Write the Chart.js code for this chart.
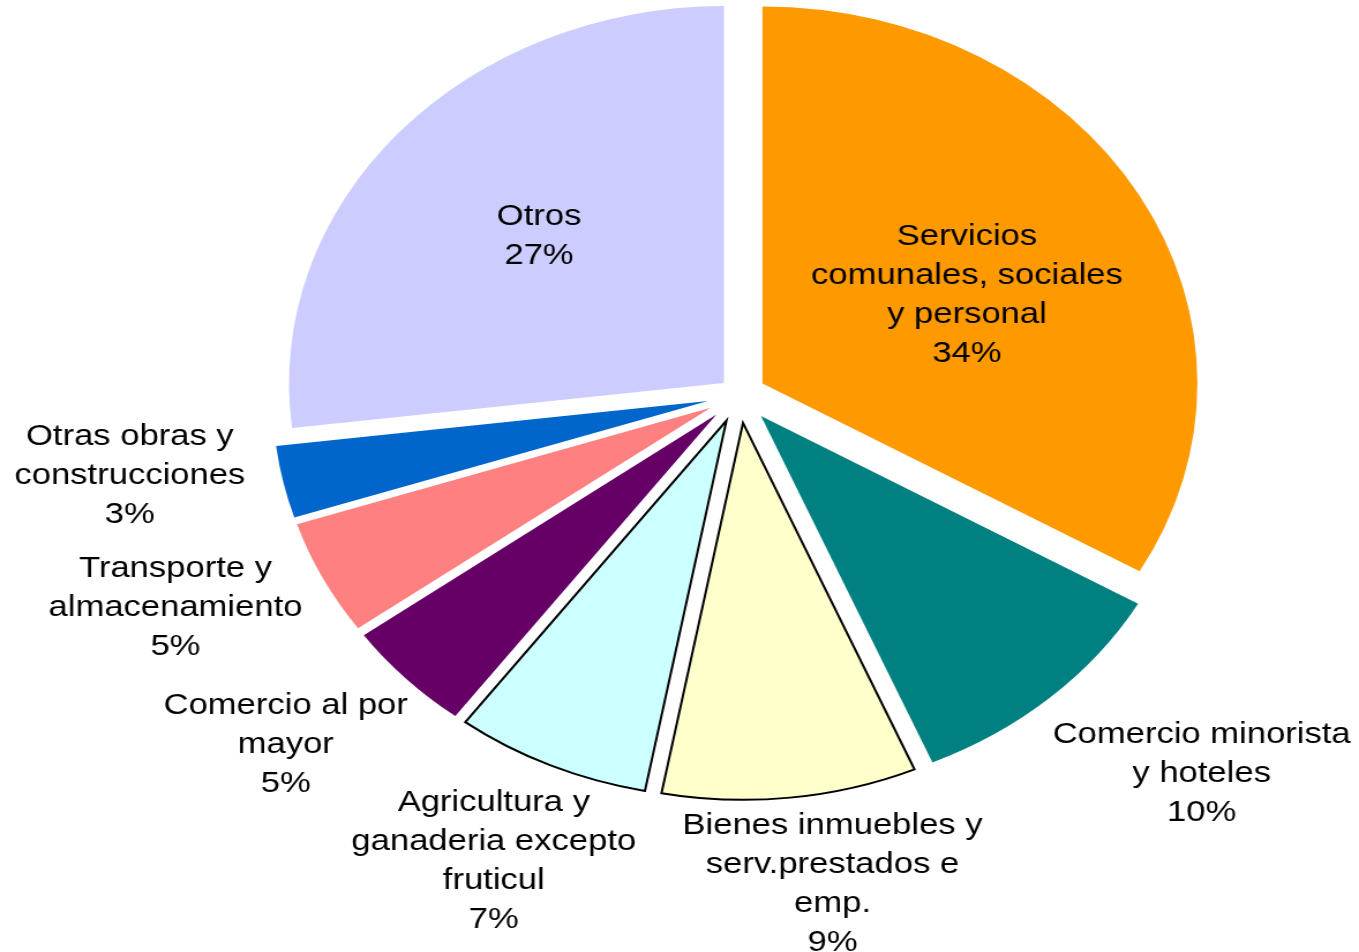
<!DOCTYPE html>
<html><head><meta charset="utf-8">
<script src="https://cdn.jsdelivr.net/npm/chart.js@4/dist/chart.umd.min.js"></script>
<style>html,body{margin:0;padding:0;background:#fff;overflow:hidden}
#c{display:block}</style>
</head><body>
<canvas id="c" width="1178" height="952" style="width:1359px;height:952px"></canvas>
<script>
// ---- data ----
const categories = [
  'Servicios comunales, sociales y personal',
  'Comercio minorista y hoteles',
  'Bienes inmuebles y serv.prestados e emp.',
  'Agricultura y ganaderia excepto fruticul',
  'Comercio al por mayor',
  'Transporte y almacenamiento',
  'Otras obras y construcciones',
  'Otros'
];
// slice sizes (%)
const shares = [33.3, 10.25, 9.45, 7.25, 4.8, 4.95, 3.1, 26.9];
// percentages as printed on the labels
const printedPct = ['34%', '10%', '9%', '7%', '5%', '5%', '3%', '27%'];
const labelLines = [
  ['Servicios', 'comunales, sociales', 'y personal'],
  ['Comercio minorista', 'y hoteles'],
  ['Bienes inmuebles y', 'serv.prestados e', 'emp.'],
  ['Agricultura y', 'ganaderia excepto', 'fruticul'],
  ['Comercio al por', 'mayor'],
  ['Transporte y', 'almacenamiento'],
  ['Otras obras y', 'construcciones'],
  ['Otros']
];

// ---- styles ----
const colors = ['#FF9900', '#008080', '#FFFFCC', '#CCFFFF', '#660066', '#FF8080', '#0066CC', '#CCCCFF'];
const borderWidths = [0, 0, 2, 2, 0, 0, 0, 0];
const explode = [23, 28, 28, 28, 28, 28, 28, 18];
const labelRadius = [0.59, 1.456, 1.308, 1.352, 1.391, 1.411, 1.417, 0.63];
const labelShiftDeg = [2.5, -5.2, -3.2, 0.85, 3.06, 3.7, 4.0, 1.4];
const FONT = '30px "Liberation Sans", Arial, sans-serif';
const LINE_H = 39;
const TEXT_DY = 3;

const explodePlugin = {
  id: 'explode',
  beforeDatasetDraw(chart, args) {
    const ctx = chart.ctx;
    const meta = args.meta;
    meta.data.forEach((arc, i) => {
      const p = arc.getProps(['startAngle', 'endAngle'], true);
      const mid = (p.startAngle + p.endAngle) / 2;
      ctx.save();
      ctx.translate(Math.cos(mid) * explode[i], Math.sin(mid) * explode[i]);
      arc.draw(ctx, chart.chartArea);
      ctx.restore();
    });
    return false;
  }
};

const labelPlugin = {
  id: 'sliceLabels',
  afterDatasetsDraw(chart) {
    const ctx = chart.ctx;
    const meta = chart.getDatasetMeta(0);
    ctx.save();
    ctx.font = FONT;
    ctx.fillStyle = '#000';
    ctx.textAlign = 'center';
    ctx.textBaseline = 'middle';
    meta.data.forEach((arc, i) => {
      const p = arc.getProps(['x', 'y', 'startAngle', 'endAngle', 'outerRadius'], true);
      const mid = (p.startAngle + p.endAngle) / 2 + labelShiftDeg[i] * Math.PI / 180;
      const r = p.outerRadius * labelRadius[i];
      const cx = p.x + Math.cos(mid) * r;
      const cy = p.y + Math.sin(mid) * r + TEXT_DY;
      const lines = labelLines[i].concat([printedPct[i]]);
      const n = lines.length;
      lines.forEach((t, k) => {
        ctx.fillText(t, cx, cy + (k - (n - 1) / 2) * LINE_H);
      });
    });
    ctx.restore();
  }
};

new Chart(document.getElementById('c'), {
  type: 'pie',
  data: {
    labels: categories,
    datasets: [{
      data: shares,
      backgroundColor: colors,
      borderColor: '#000000',
      borderWidth: borderWidths,
      borderJoinStyle: 'miter',
      offset: 0
    }]
  },
  options: {
    responsive: false,
    animation: false,
    devicePixelRatio: 1,
    radius: 377,
    layout: { padding: { left: 104, right: 0, top: 0, bottom: 162 } },
    plugins: { legend: { display: false }, tooltip: { enabled: false } }
  },
  plugins: [explodePlugin, labelPlugin]
});
</script>
</body></html>
